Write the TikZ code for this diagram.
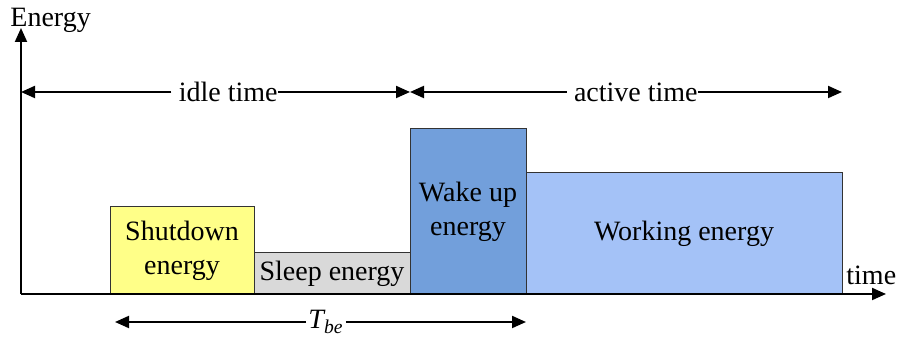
\documentclass[tikz,border=0pt]{standalone}
\usepackage{fontspec}
\setmainfont{Liberation Serif}
\newfontfamily\timesfont{Liberation Serif}
\usetikzlibrary{arrows.meta}
\definecolor{shutcol}{HTML}{FFFF88}
\definecolor{sleepcol}{HTML}{D9D9D9}
\definecolor{wakecol}{HTML}{729FDB}
\definecolor{workcol}{HTML}{A4C2F7}
\begin{document}
\begin{tikzpicture}[x=0.5pt, y=-0.5pt, font=\timesfont\fontsize{14}{17}\selectfont,
  bar/.style={draw=black!80, line width=0.5pt, inner sep=0pt, align=center},
  tip/.style={-{Triangle[length=7pt,width=6pt]}, line width=1pt},
  lbl/.style={fill=white, inner sep=0pt}]
  \useasboundingbox (0,0) rectangle (899,340);
  % energy blocks
  \node (shut) at (182,250.5) [bar, fill=shutcol, minimum width=72pt, minimum height=43.5pt] {Shutdown\\energy};
  \node (sleep) at (332,273.5) [bar, fill=sleepcol, minimum width=78pt, minimum height=20.5pt] {Sleep energy};
  \node (wake) at (468,211.5) [bar, fill=wakecol, minimum width=58pt, minimum height=82.5pt] {Wake up\\energy};
  \node (work) at (684,233.5) [bar, fill=workcol, minimum width=158pt, minimum height=60.5pt] {Working energy};
  % axes
  \coordinate (O) at (21,294);
  \coordinate (ytop) at (21,28);
  \coordinate (xend) at (886,294);
  \draw[tip] (O) -- (ytop);
  \draw[tip] (O) -- (xend);
  \node (elbl) at (10,27) [anchor=base west, inner sep=0pt] {Energy};
  \node (tlbl) at (846,285) [anchor=base west, inner sep=0pt] {time};
  % time spans
  \coordinate (i0) at (21,92);
  \coordinate (i1) at (410,92);
  \coordinate (a1) at (842,92);
  \node (idle) at (278,92) [lbl, anchor=east] {\ idle time};
  \node (active) at (698,92) [lbl, anchor=east] {\ active time};
  \draw[tip] (idle.west) -- (i0);
  \draw[tip] (idle.east) -- (i1);
  \draw[tip] (active.west) -- (i1);
  \draw[tip] (active.east) -- (a1);
  % break-even time
  \coordinate (tb0) at (115,322);
  \coordinate (tb1) at (526,322);
  \node (tbe) at (326,322) [lbl, inner xsep=1pt] {\textit{T\textsubscript{be}}};
  \draw[tip] (tbe) -- (tb0);
  \draw[tip] (tbe) -- (tb1);
\end{tikzpicture}
\end{document}
